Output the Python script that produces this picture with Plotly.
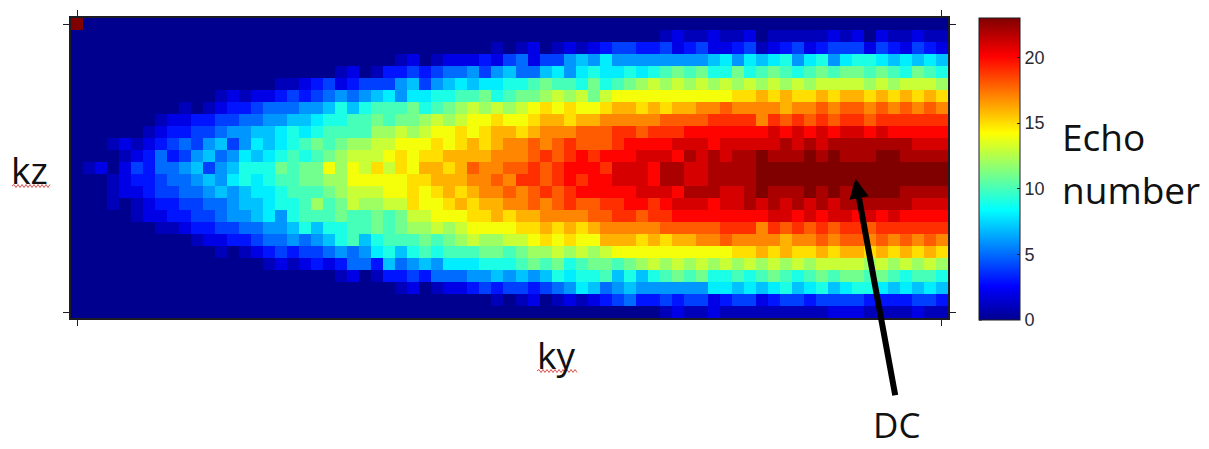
import plotly.graph_objects as go

# echo number per (kz, ky) cell: rows top to bottom,
# each row split as columns 0-23, 24-47, 48-72
row_00 = [23] + [0] * 23 + [0] * 24 + [0] * 25
row_01 = [0] * 24 + [0] * 24 + [0, 1, 2, 1, 1, 2, 1, 1, 2, 0, 1, 1, 1, 1, 1, 2, 1, 2, 0, 2, 1, 1, 2, 1, 1]
row_02 = [0] * 24 + [0] * 11 + [1, 0, 1, 2, 0, 1, 2, 1, 2, 3, 4, 4, 3] + [3, 4, 2, 3, 4, 2, 2, 3, 4, 1, 2, 3, 4, 2, 3, 4, 4, 4, 2, 4, 3, 2, 4, 3, 2]
row_03 = [0] * 24 + [0, 0, 0, 1, 2, 0, 1, 2, 2, 2, 3, 2, 4, 5, 2, 4, 4, 6, 7, 6, 8, 6, 6, 6] + [6, 6, 6, 6, 6, 7, 8, 6, 8, 7, 8, 9, 6, 8, 9, 6, 8, 9, 9, 8, 7, 8, 7, 8, 7]
row_04 = [0] * 22 + [1, 2] + [0, 1, 3, 3, 4, 3, 4, 5, 5, 6, 4, 6, 7, 5, 5, 7, 8, 6, 8, 9, 8, 8, 9, 8] + [9, 10, 11, 10, 11, 9, 9, 11, 9, 10, 11, 10, 9, 10, 11, 10, 11, 11, 10, 11, 10, 9, 11, 10, 9]
row_05 = [0] * 17 + [1, 1, 2, 3, 4, 2, 3] + [4, 4, 4, 6, 7, 4, 6, 7, 8, 7, 8, 8, 9, 9, 10, 11, 10, 10, 9, 11, 9, 10, 11, 12] + [13, 12, 13, 12, 13, 12, 13, 12, 13, 12, 13, 12, 13, 12, 13, 13, 13, 13, 12, 13, 12, 13, 13, 13, 12]
row_06 = [0] * 12 + [1, 2, 1, 2, 2, 3, 4, 3, 4, 5, 6, 5] + [6, 7, 8, 6, 8, 8, 9, 9, 10, 10, 11, 9, 10, 11, 11, 12, 13, 12, 13, 11, 13, 14, 14, 14] + [14, 14, 14, 14, 14, 14, 14, 15, 15, 16, 15, 16, 15, 15, 16, 15, 16, 16, 15, 16, 15, 16, 15, 16, 15]
row_07 = [0] * 9 + [1, 0, 1, 2, 3, 3, 4, 5, 5, 5, 6, 6, 7, 9, 7] + [9, 10, 10, 10, 11, 9, 10, 11, 12, 13, 12, 13, 12, 13, 14, 15, 14, 15, 14, 14, 15, 16, 16, 15] + [16, 15, 16, 16, 17, 17, 18, 17, 17, 17, 17, 16, 17, 17, 18, 17, 18, 18, 17, 18, 17, 18, 17, 18, 17]
row_08 = [0] * 7 + [1, 2, 2, 3, 3, 4, 4, 5, 5, 6, 6, 7, 7, 8, 9, 9, 10] + [10, 11, 10, 11, 11, 12, 13, 12, 13, 14, 14, 15, 14, 14, 15, 16, 16, 15, 16, 16, 17, 17, 17, 17] + [17, 18, 18, 18, 18, 19, 19, 19, 19, 17, 19, 18, 19, 18, 19, 18, 19, 19, 18, 19, 19, 19, 19, 19, 19]
row_09 = [0] * 6 + [1, 2, 3, 3, 4, 4, 5, 6, 6, 7, 7, 8, 9, 8, 9, 10, 10, 10] + [10, 12, 12, 13, 12, 13, 14, 14, 15, 14, 15, 16, 16, 15, 16, 17, 17, 17, 18, 18, 18, 19, 19, 18] + [19, 19, 19, 20, 20, 20, 20, 20, 20, 20, 21, 20, 21, 20, 21, 20, 21, 21, 20, 21, 20, 20, 20, 20, 20]
row_10 = [0] * 3 + [1, 2, 1, 2, 3, 4, 5, 4, 6, 7, 4, 6, 8, 7, 8, 9, 10, 11, 10, 11, 12] + [12, 13, 13, 14, 14, 14, 15, 14, 15, 16, 15, 16, 17, 17, 18, 17, 18, 19, 18, 18, 18, 19, 20, 20] + [20, 20, 21, 21, 21, 20, 21, 21, 21, 21, 21, 22, 21, 22, 21, 22, 22, 22, 22, 22, 22, 22, 21, 21, 21]
row_11 = [0] * 4 + [1, 2, 3, 5, 3, 4, 6, 7, 5, 6, 8, 7, 8, 9, 10, 9, 10, 11, 12, 13] + [13, 13, 14, 15, 14, 15, 15, 16, 16, 16, 16, 17, 17, 17, 18, 19, 18, 19, 20, 19, 20, 20, 20, 21] + [21, 21, 20, 22, 21, 22, 21, 22, 22, 23, 22, 22, 22, 23, 22, 23, 22, 22, 22, 23, 23, 22, 22, 22, 22]
row_12 = [0, 1, 2, 0, 2, 4, 3, 5, 5, 6, 7, 4, 6, 7, 9, 9, 9, 11, 10, 11, 11, 14, 12, 14] + [13, 15, 13, 15, 14, 16, 16, 15, 16, 18, 17, 17, 18, 18, 19, 18, 19, 20, 20, 20, 19, 21, 21, 21] + [20, 22, 22, 21, 21, 22, 22, 22, 22, 23] + [23] * 15
row_13 = [0, 0, 0, 1, 2, 3, 3, 4, 5, 5, 6, 7, 6, 8, 9, 8, 9, 10, 10, 11, 11, 12, 12, 14] + [14, 14, 14, 14, 15, 15, 16, 16, 16, 17, 17, 18, 17, 19, 19, 18, 19, 20, 19, 20, 20, 21, 21, 21] + [20, 22, 22, 21, 21, 22, 22, 22, 22, 23] + [23] * 15
row_14 = [0, 0, 0, 1, 2, 2, 3, 4, 4, 5, 5, 6, 7, 6, 7, 8, 8, 9, 10, 10, 10, 11, 12, 13] + [13, 13, 14, 14, 15, 14, 15, 16, 15, 16, 17, 17, 18, 17, 18, 19, 18, 19, 20, 20, 20, 20, 20, 21] + [21, 21, 20, 22, 22, 22, 21, 21, 22, 23, 22, 22, 22, 23, 22, 23, 22, 23, 23, 23, 23, 22, 22, 22, 22]
row_15 = [0, 0, 0, 1, 0, 1, 2, 3, 3, 4, 4, 5, 5, 6, 7, 7, 8, 9, 9, 10, 12, 10, 11, 13] + [12, 12, 13, 13, 15, 14, 14, 15, 16, 15, 16, 16, 17, 17, 18, 17, 18, 19, 18, 18, 19, 19, 20, 20] + [19, 20, 21, 21, 21, 20, 21, 21, 22, 21, 22, 21, 22, 21, 22, 21, 22, 22, 22, 22, 22, 22, 21, 21, 21]
row_16 = [0, 0, 0, 0, 0, 1, 2, 2, 3, 3, 4, 4, 5, 6, 6, 7, 8, 6, 9, 10, 10, 10, 11, 10] + [10, 11, 10, 11, 13, 13, 14, 14, 14, 15, 15, 16, 15, 16, 16, 17, 17, 17, 17, 18, 18, 19, 19, 18] + [19, 19, 20, 20, 20, 20, 20, 20, 20, 20, 21, 21, 20, 21, 20, 21, 21, 20, 21, 20, 21, 20, 20, 20, 20]
row_17 = [0] * 7 + [1, 1, 2, 3, 3, 4, 4, 5, 5, 6, 6, 7, 9, 7, 9, 9, 10] + [10, 11, 10, 11, 12, 12, 13, 12, 13, 14, 14, 14, 14, 15, 15, 16, 15, 16, 15, 16, 17, 17, 17, 17] + [17, 18, 18, 18, 18, 18, 19, 19, 19, 17, 19, 18, 19, 18, 19, 18, 19, 19, 18, 19, 19, 19, 19, 19, 19]
row_18 = [0] * 10 + [1, 2, 2, 3, 3, 4, 5, 5, 6, 5, 6, 7, 9, 10] + [7, 9, 10, 10, 10, 11, 10, 11, 12, 13, 12, 12, 13, 13, 14, 15, 14, 15, 14, 14, 16, 16, 16, 15] + [16, 15, 16, 16, 17, 17, 18, 17, 17, 17, 17, 16, 17, 17, 18, 17, 18, 18, 17, 18, 17, 18, 17, 18, 17]
row_19 = [0] * 12 + [1, 0, 1, 2, 3, 4, 3, 4, 4, 5, 6, 5] + [6, 8, 9, 7, 9, 10, 9, 10, 10, 10, 11, 11, 10, 11, 12, 12, 13, 12, 13, 12, 13, 14, 14, 14] + [14, 14, 14, 14, 14, 14, 14, 15, 15, 16, 15, 16, 15, 15, 16, 15, 16, 16, 15, 16, 15, 16, 15, 16, 15]
row_20 = [0] * 16 + [1, 2, 1, 2, 3, 2, 3, 5] + [5, 3, 7, 5, 6, 7, 6, 8, 8, 8, 9, 9, 9, 10, 11, 10, 11, 9, 10, 11, 11, 10, 11, 12] + [13, 12, 13, 12, 13, 12, 13, 12, 13, 12, 13, 12, 13, 12, 13, 13, 13, 13, 12, 13, 12, 13, 12, 13, 12]
row_21 = [0] * 22 + [1, 2] + [0, 1, 3, 3, 4, 3, 5, 5, 5, 6, 6, 7, 6, 7, 6, 7, 9, 8, 9, 9, 10, 7, 9, 7] + [9, 10, 11, 10, 11, 9, 9, 10, 9, 10, 11, 10, 9, 10, 11, 10, 11, 11, 10, 11, 10, 9, 10, 10, 9]
row_22 = [0] * 24 + [0, 0, 0, 1, 2, 0, 1, 2, 2, 3, 4, 3, 4, 4, 3, 4, 5, 6, 8, 7, 5, 6, 7, 6] + [6, 6, 6, 6, 6, 8, 8, 7, 8, 7, 8, 9, 7, 8, 9, 7, 8, 9, 9, 8, 7, 8, 7, 8, 7]
row_23 = [0] * 24 + [0] * 11 + [1, 0, 1, 2, 0, 1, 2, 1, 2, 3, 4, 5, 3] + [3, 4, 3, 4, 4, 2, 3, 4, 4, 2, 3, 4, 4, 3, 4, 4, 4, 4, 3, 3, 3, 3, 4, 4, 3]
row_24 = [0] * 24 + [0] * 24 + [0, 1, 2, 1, 1, 2, 1, 1, 1, 1, 1, 1, 1, 1, 1, 2, 2, 2, 1, 1, 1, 1, 2, 1, 1]

cbar_ticks = [0, 5, 10, 15, 20]

Z_MAX = 23
INK = "#1c1c24"

# matlab jet: navy start, dark red end
JET = [
    [0.0, "#00008f"],
    [0.111, "#0000ff"],
    [0.365, "#00ffff"],
    [0.619, "#ffff00"],
    [0.873, "#ff0000"],
    [1.0, "#800000"],
]

z = [row_00, row_01, row_02, row_03, row_04, row_05, row_06, row_07, row_08,
     row_09, row_10, row_11, row_12, row_13, row_14, row_15, row_16, row_17,
     row_18, row_19, row_20, row_21, row_22, row_23, row_24]


def px_x(px):
    # window pixel -> paper fraction of the plot area
    return (px - 71) / 877


def px_y(py):
    return (318 - py) / 300


def squiggle(x0, x1, y):
    # spell-check underline under kz / ky
    path = f"M{px_x(x0):.5f},{px_y(y):.5f}"
    up = True
    x = x0
    while x < x1:
        x += 2
        path += f" L{px_x(x):.5f},{px_y(y - 1.5 if up else y + 1.5):.5f}"
        up = not up
    return dict(type="path", xref="paper", yref="paper", path=path,
                line=dict(color="#d9534f", width=1))


fig = go.Figure(go.Heatmap(
    z=z,
    zmin=0,
    zmax=Z_MAX,
    colorscale=JET,
    colorbar=dict(
        thickness=41, thicknessmode="pixels",
        len=302, lenmode="pixels",
        x=px_x(979), xanchor="left", xpad=0,
        y=1, yanchor="top", ypad=0,
        outlinecolor=INK, outlinewidth=1,
        tickvals=cbar_ticks,
        ticks="inside", ticklen=3, tickcolor=INK,
        tickfont=dict(family="Liberation Sans", size=18, color="#2a2a33"),
    ),
))

axis_style = dict(
    showgrid=False, zeroline=False, showticklabels=False,
    showline=True, linecolor=INK, linewidth=1.5, mirror="allticks",
    ticks="outside", ticklen=6, tickwidth=1, tickcolor=INK,
)
fig.update_xaxes(range=[-0.5, 72.5], tickvals=[0, 72], **axis_style)
fig.update_yaxes(range=[24.5, -0.5], tickvals=[0, 24], **axis_style)

label_font = dict(family="Open Sans", size=37, color="#111111")
annotations = [
    dict(text="kz", x=px_x(29), y=px_y(169)),
    dict(text="ky", x=px_x(556), y=px_y(354)),
    # a little smaller and higher so its text box stays inside the page
    dict(text="DC", x=px_x(896), y=px_y(424.5), font=dict(family="Open Sans", size=35, color="#111111")),
    dict(text="Echo", x=px_x(1060), y=px_y(136), xanchor="left"),
    dict(text="number", x=px_x(1060), y=px_y(189), xanchor="left"),
]
for a in annotations:
    fig.add_annotation(xref="paper", yref="paper", showarrow=False,
                       **{"xanchor": "center", "yanchor": "middle", "font": label_font, **a})

# arrow pointing at the DC cell
fig.add_annotation(
    x=64.8, y=12.9, xref="x", yref="y", text="",
    showarrow=True, arrowhead=2, arrowsize=0.65, arrowwidth=6, arrowcolor="#000000",
    axref="pixel", ayref="pixel", ax=40, ay=218, standoff=0,
)

shapes = [squiggle(12, 50, 186), squiggle(537, 576, 371)]
for v in cbar_ticks:
    # matlab draws the colorbar ticks on both sides
    py = 320 - v / Z_MAX * 302
    shapes.append(dict(type="line", xref="paper", yref="paper",
                       x0=px_x(979), x1=px_x(982), y0=px_y(py), y1=px_y(py),
                       line=dict(color=INK, width=1)))

# the page keeps an 8px body margin, so the figure is 8px smaller than the window
fig.update_layout(
    width=1201, height=441,
    margin=dict(l=63, r=261, t=10, b=131, autoexpand=False),
    paper_bgcolor="white", plot_bgcolor="white",
    shapes=shapes,
)
fig.write_html("out.html")
